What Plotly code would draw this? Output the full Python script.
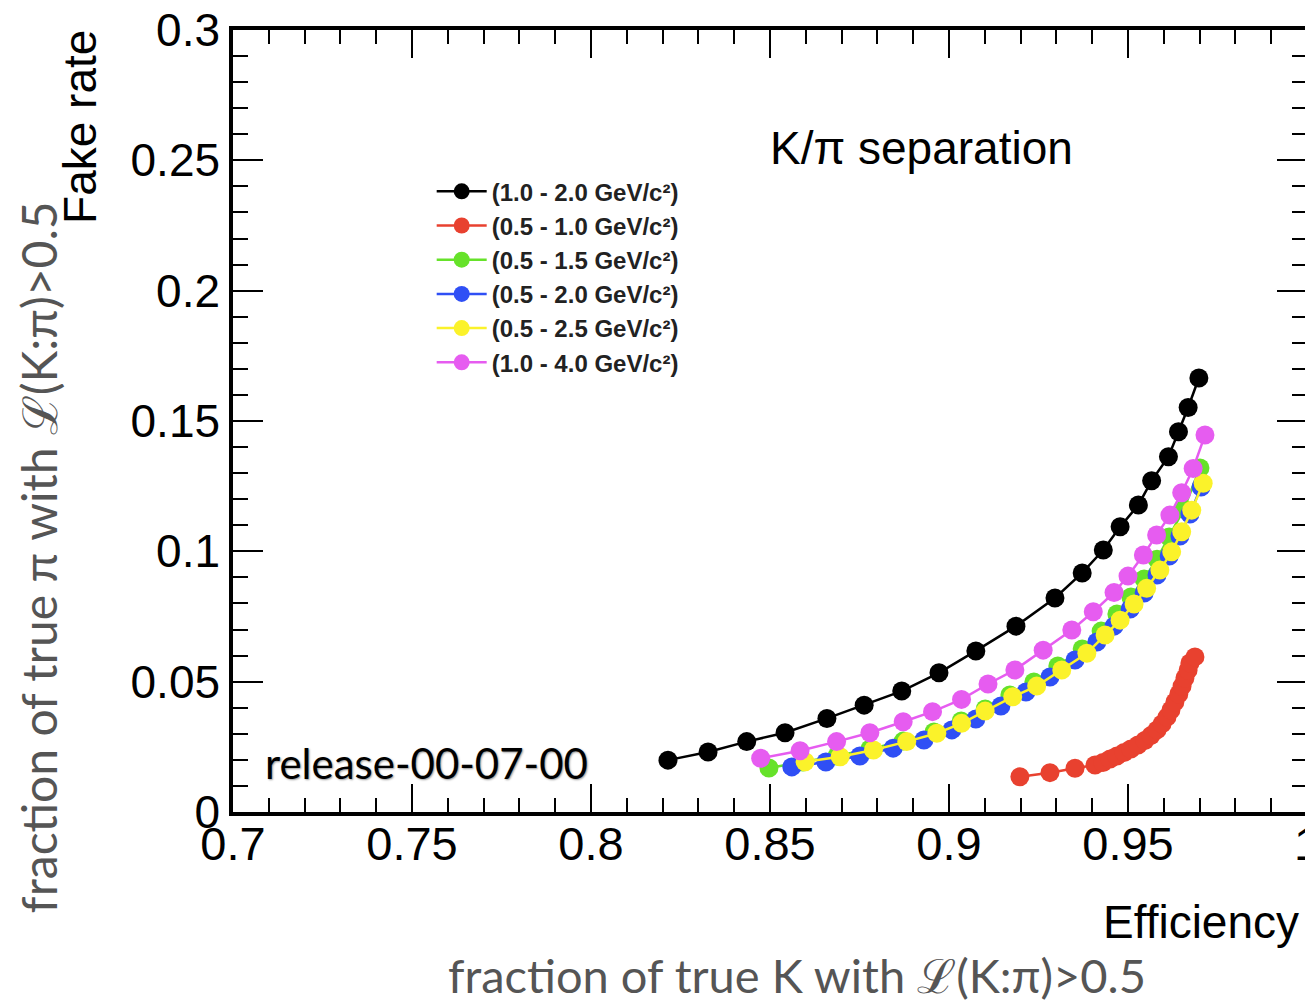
import plotly.graph_objects as go

# ---- data (efficiency, fake rate) ----
black_x = [0.8215, 0.8327, 0.8435, 0.8542, 0.8659, 0.8763, 0.8868, 0.8972, 0.9075, 0.9187,
           0.9296, 0.9372, 0.9431, 0.9478, 0.9529, 0.9566, 0.9613, 0.9641, 0.9668, 0.9698]
black_y = [0.0199, 0.0230, 0.0270, 0.0304, 0.0359, 0.0410, 0.0464, 0.0534, 0.0618, 0.0713,
           0.0821, 0.0917, 0.1005, 0.1094, 0.1178, 0.1271, 0.1363, 0.1459, 0.1552, 0.1665]

red_x = [0.9198, 0.9282, 0.9352, 0.9408, 0.9430, 0.9450, 0.9469, 0.9489, 0.9508, 0.9528,
         0.9547, 0.9564, 0.9581, 0.9595, 0.9609, 0.9620, 0.9631, 0.9642, 0.9651, 0.9659,
         0.9668, 0.9673, 0.9687]
red_y = [0.0135, 0.0151, 0.0168, 0.0180, 0.0190, 0.0203, 0.0215, 0.0228, 0.0242, 0.0257,
         0.0274, 0.0293, 0.0315, 0.0338, 0.0364, 0.0391, 0.0422, 0.0453, 0.0483, 0.0514,
         0.0545, 0.0572, 0.0595]

green_x = [0.8497, 0.8592, 0.8687, 0.8779, 0.8872, 0.8958, 0.9034, 0.9101, 0.9170, 0.9237,
           0.9304, 0.9372, 0.9425, 0.9469, 0.9508, 0.9545, 0.9581, 0.9615, 0.9656, 0.9701]
green_y = [0.0169, 0.0192, 0.0215, 0.0242, 0.0272, 0.0307, 0.0349, 0.0395, 0.0449, 0.0499,
           0.0560, 0.0625, 0.0694, 0.0760, 0.0825, 0.0894, 0.0970, 0.1055, 0.1162, 0.1320]

blue_x = [0.8561, 0.8656, 0.8751, 0.8844, 0.8930, 0.9008, 0.9075, 0.9145, 0.9215, 0.9282,
          0.9352, 0.9413, 0.9461, 0.9506, 0.9545, 0.9581, 0.9615, 0.9645, 0.9673, 0.9704]
blue_y = [0.0173, 0.0192, 0.0215, 0.0245, 0.0276, 0.0315, 0.0357, 0.0407, 0.0460, 0.0518,
          0.0583, 0.0652, 0.0713, 0.0779, 0.0840, 0.0909, 0.0982, 0.1059, 0.1143, 0.1247]

yellow_x = [0.8598, 0.8696, 0.8789, 0.8882, 0.8966, 0.9035, 0.9101, 0.9178, 0.9245, 0.9315,
            0.9385, 0.9436, 0.9478, 0.9517, 0.9552, 0.9589, 0.9622, 0.9650, 0.9678, 0.9710]
yellow_y = [0.0193, 0.0212, 0.0238, 0.0270, 0.0302, 0.0340, 0.0387, 0.0442, 0.0483, 0.0545,
            0.0609, 0.0679, 0.0736, 0.0798, 0.0858, 0.0928, 0.0998, 0.1075, 0.1158, 0.1261]

magenta_x = [0.8474, 0.8584, 0.8686, 0.8779, 0.8872, 0.8954, 0.9035, 0.9109, 0.9184, 0.9263,
             0.9343, 0.9403, 0.9461, 0.9500, 0.9543, 0.9580, 0.9617, 0.9650, 0.9682, 0.9715]
magenta_y = [0.0206, 0.0235, 0.0270, 0.0304, 0.0346, 0.0385, 0.0432, 0.0491, 0.0545, 0.0621,
             0.0698, 0.0768, 0.0842, 0.0905, 0.0986, 0.1063, 0.1139, 0.1225, 0.1318, 0.1446]

series_names = ["(1.0 - 2.0 GeV/c²)", "(0.5 - 1.0 GeV/c²)", "(0.5 - 1.5 GeV/c²)",
                "(0.5 - 2.0 GeV/c²)", "(0.5 - 2.5 GeV/c²)", "(1.0 - 4.0 GeV/c²)"]
series_colors = ["#000000", "#e8412f", "#66e22a", "#2f4ff5", "#fbf22a", "#e65cf0"]
series_data = [(black_x, black_y), (red_x, red_y), (green_x, green_y),
               (blue_x, blue_y), (yellow_x, yellow_y), (magenta_x, magenta_y)]

x_ticks = [0.7, 0.75, 0.8, 0.85, 0.9, 0.95, 1.0]
x_ticklabels = ["0.7", "0.75", "0.8", "0.85", "0.9", "0.95", "1"]
y_ticks = [0, 0.05, 0.1, 0.15, 0.2, 0.25, 0.3]
y_ticklabels = ["0", "0.05", "0.1", "0.15", "0.2", "0.25", "0.3"]

fig = go.Figure()
for (xs, ys), name, col in zip(series_data, series_names, series_colors):
    fig.add_trace(go.Scatter(
        x=xs, y=ys, mode="lines+markers", name="<b>" + name + "</b>",
        line=dict(color=col, width=2.5),
        marker=dict(color=col, size=19, symbol="circle", line=dict(width=0)),
    ))

axis_font = dict(family="Liberation Sans, Arial, sans-serif", color="black")
fig.update_xaxes(
    range=[0.7, 1.0], tickvals=x_ticks, ticktext=x_ticklabels,
    ticks="inside", ticklen=28, tickwidth=2, tickcolor="black",
    minor=dict(dtick=0.01, ticks="inside", ticklen=14, tickwidth=2, tickcolor="black"),
    showline=True, linewidth=3.5, linecolor="black", mirror="allticks",
    showgrid=False, zeroline=False, automargin=False, ticklabeloverflow="allow",
    ticklabelstandoff=-12,
    tickfont=dict(size=47, **axis_font),
)
fig.update_yaxes(
    range=[0, 0.3], tickvals=y_ticks, ticktext=y_ticklabels,
    ticks="inside", ticklen=30, tickwidth=2, tickcolor="black",
    minor=dict(dtick=0.01, ticks="inside", ticklen=15, tickwidth=2, tickcolor="black"),
    showline=True, linewidth=3.5, linecolor="black", mirror="allticks",
    showgrid=False, zeroline=False, automargin=False, ticklabeloverflow="allow",
    tickfont=dict(size=46, **axis_font),
)

grey = "#555555"
annotations = [
    dict(text="K/π separation", x=0.6406, y=0.849,
         font=dict(size=46, **axis_font)),
    dict(text="Fake rate", x=-0.1425, y=0.876, textangle=-90,
         font=dict(size=46, **axis_font)),
    dict(text="Efficiency", x=0.9013, y=-0.1407,
         font=dict(size=46, **axis_font)),
    dict(text="fraction of true K with ℒ(K:π)>0.5", x=0.525, y=-0.2084,
         font=dict(size=47, family="Lato, Open Sans, sans-serif", color=grey)),
    dict(text="fraction of true π with ℒ(K:π)>0.5", x=-0.1815, y=0.326, textangle=-90,
         font=dict(size=48, family="Lato, Open Sans, sans-serif", color=grey)),
    dict(text="release-00-07-00", x=0.0279, y=0.0627, xanchor="left",
         font=dict(size=42, family="Lato, Open Sans, sans-serif", color="black",
                   shadow="1px 1px 2px #999")),
]
for a in annotations:
    a.setdefault("xanchor", "center")
    a.setdefault("yanchor", "middle")
    a.update(xref="paper", yref="paper", showarrow=False)

# the page body adds an 8px offset, so the figure is 8px smaller on each axis
fig.update_layout(
    width=1305, height=992,
    margin=dict(l=225, r=6, t=22, b=188, autoexpand=False),
    paper_bgcolor="white", plot_bgcolor="white",
    showlegend=True,
    legend=dict(x=0.185, y=0.822, xanchor="left", yanchor="top",
                bgcolor="rgba(0,0,0,0)", borderwidth=0,
                font=dict(size=24, family="Liberation Sans, Arial, sans-serif", color="#222"),
                tracegroupgap=0, itemwidth=50),
    annotations=annotations,
)

fig.write_html("out.html")
